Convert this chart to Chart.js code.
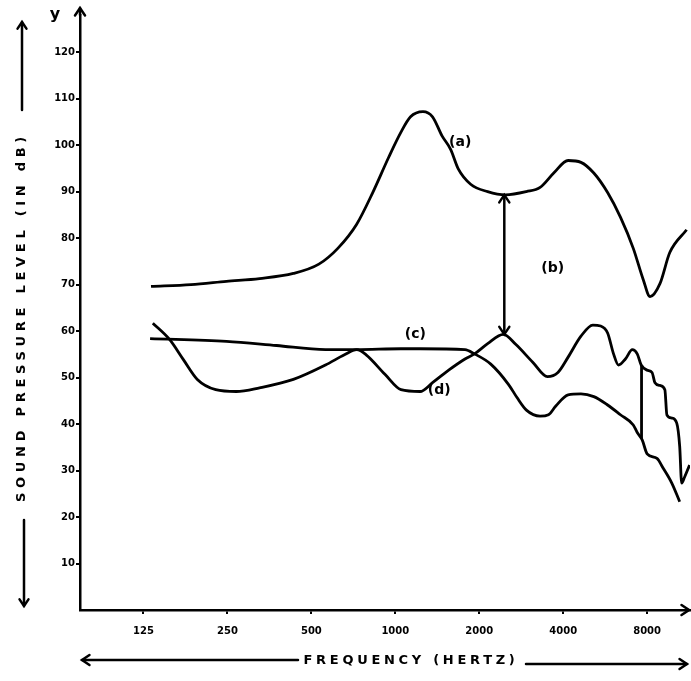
<!DOCTYPE html>
<html lang="en">
<head>
    <meta charset="UTF-8">
    <title>Sound Pressure Level vs Frequency</title>
    <script src="https://cdn.jsdelivr.net/npm/chart.js@4.4.0/dist/chart.umd.min.js"></script>
    <style>
        html, body {
            margin: 0;
            padding: 0;
            background: #fff;
        }
        #wrap {
            width: 691px;
            height: 681px;
        }
    </style>
</head>
<body>
    <div id="wrap">
        <canvas id="chart" width="691" height="681"></canvas>
    </div>

    <script>
        // tick labels
        const xTickValues = [125, 250, 500, 1000, 2000, 4000, 8000];
        const yTickValues = [10, 20, 30, 40, 50, 60, 70, 80, 90, 100, 110, 120];

        // curve (a)
        const aFreq = [133, 185, 248, 326, 431, 532, 622, 727, 830, 947, 1048, 1134, 1257, 1360, 1471, 1579, 1682, 1863,
                       2144, 2483, 2953, 3306, 3700, 4167, 4633, 5151, 5773, 6418, 7136, 7745, 8197, 8895, 9647, 11086];
        const aLevel = [69.6, 70.0, 70.7, 71.3, 72.4, 74.4, 77.8, 83.0, 89.8, 97.4, 102.8, 106.1, 107.2, 106.1, 102.0, 99.1, 94.9, 91.6,
                        90.0, 89.3, 90.0, 90.9, 94.0, 96.7, 96.3, 94.0, 89.8, 84.5, 77.8, 71.1, 67.4, 70.2, 76.9, 81.8];

        // curve (c)
        const cFreq = [132, 248, 375, 562, 727, 1048, 1227, 1778, 1923, 2200, 2549, 2732, 2953, 3306, 3543, 3765, 4167, 4633,
                       5151, 5773, 6418, 7136, 7373, 7681, 8000, 8678, 9115, 9808, 10470];
        const cLevel = [58.4, 57.8, 56.9, 56.0, 56.0, 56.2, 56.2, 56.0, 55.1, 52.9, 48.5, 45.7, 43.0, 41.7, 42.0, 43.9, 46.3, 46.5,
                        45.9, 44.1, 42.0, 39.8, 38.2, 36.6, 33.6, 32.6, 30.6, 27.3, 23.3];

        // curve (d)
        const dFreq = [135, 155, 174, 195, 227, 269, 326, 431, 562, 657, 727, 786, 918, 1048, 1227, 1360, 1554, 1778, 1923,
                       2144, 2441, 2708, 3111, 3513, 3830, 4167, 4633, 5109, 5452, 5773, 6063, 6315, 6687, 7080, 7373, 7617,
                       8000, 8332, 8536, 8895, 9263, 9418, 9808, 10218, 10470, 10642, 10905, 11360];
        const dLevel = [61.7, 58.2, 53.8, 49.6, 47.4, 47.0, 47.8, 49.6, 52.7, 54.9, 56.0, 54.9, 50.7, 47.4, 47.0, 48.9, 51.6, 54.0, 55.1,
                        57.3, 59.3, 57.1, 53.3, 50.2, 51.1, 54.4, 58.9, 61.3, 61.1, 59.6, 55.1, 52.7, 54.0, 56.0, 55.1, 52.7,
                        51.6, 51.1, 48.9, 48.3, 47.4, 42.0, 41.3, 40.2, 35.2, 27.3, 28.6, 31.2];

        // vertical drop near 8000 Hz
        const dropFreq = [7640, 7640];
        const dropLevel = [52.7, 36.8];

        // double arrow (b) between (a) and (d)
        const bArrowFreq = 2460;
        const bArrowLevels = [89.3, 59.3];

        // curve labels
        const curveLabels = ['(a)', '(b)', '(c)', '(d)'];
        const labelFreq = [1709, 3668, 1180, 1437];
        const labelLevel = [100.7, 73.6, 59.3, 47.2];

        function pts(xs, ys) {
            return xs.map((x, i) => ({ x: x, y: ys[i] }));
        }

        function head(ctx, x, y, ang, size) {
            ctx.beginPath();
            ctx.moveTo(x + size * Math.cos(ang + 2.55), y + size * Math.sin(ang + 2.55));
            ctx.lineTo(x, y);
            ctx.lineTo(x + size * Math.cos(ang - 2.55), y + size * Math.sin(ang - 2.55));
            ctx.stroke();
        }

        function spacedText(ctx, text, x, y, width) {
            const w = ctx.measureText(text).width;
            if ('letterSpacing' in ctx) {
                ctx.letterSpacing = ((width - w) / text.length) + 'px';
            }
            ctx.fillText(text, x, y);
            if ('letterSpacing' in ctx) ctx.letterSpacing = '0px';
        }

        const decor = {
            id: 'decor',
            afterDraw(chart) {
                const { ctx, chartArea: ca, scales: { x, y } } = chart;
                ctx.save();
                ctx.strokeStyle = '#000';
                ctx.fillStyle = '#000';
                ctx.lineWidth = 2.5;
                ctx.lineCap = 'round';

                // axis arrows
                ctx.beginPath();
                ctx.moveTo(ca.left, ca.top);
                ctx.lineTo(ca.left, 8);
                ctx.stroke();
                head(ctx, ca.left, 8, -Math.PI / 2, 9);
                head(ctx, ca.right - 1, ca.bottom, 0, 9);

                // "y" label
                ctx.font = 'bold 16px "DejaVu Sans"';
                ctx.textAlign = 'center';
                ctx.textBaseline = 'middle';
                ctx.fillText('y', 55, 15);

                // y axis title with arrows
                ctx.save();
                ctx.translate(22, 317);
                ctx.rotate(-Math.PI / 2);
                ctx.font = 'bold 13px "DejaVu Sans"';
                spacedText(ctx, 'SOUND PRESSURE LEVEL (IN dB)', 0, 0, 370);
                ctx.restore();
                ctx.beginPath();
                ctx.moveTo(22, 110);
                ctx.lineTo(22, 22);
                ctx.moveTo(24, 520);
                ctx.lineTo(24, 606);
                ctx.stroke();
                head(ctx, 22, 22, -Math.PI / 2, 8);
                head(ctx, 24, 606, Math.PI / 2, 8);

                // x axis title with arrows
                ctx.font = 'bold 13px "DejaVu Sans"';
                spacedText(ctx, 'FREQUENCY (HERTZ)', 411, 661, 215);
                ctx.beginPath();
                ctx.moveTo(82, 660);
                ctx.lineTo(298, 660);
                ctx.moveTo(526, 664);
                ctx.lineTo(687, 664);
                ctx.stroke();
                head(ctx, 82, 660, Math.PI, 9);
                head(ctx, 687, 664, 0, 9);

                // double arrow (b)
                const bx = x.getPixelForValue(bArrowFreq);
                const by1 = y.getPixelForValue(bArrowLevels[0]);
                const by2 = y.getPixelForValue(bArrowLevels[1]);
                ctx.beginPath();
                ctx.moveTo(bx, by1);
                ctx.lineTo(bx, by2);
                ctx.stroke();
                head(ctx, bx, by1, -Math.PI / 2, 9);
                head(ctx, bx, by2, Math.PI / 2, 9);

                // curve labels
                ctx.font = 'bold 14px "DejaVu Sans"';
                curveLabels.forEach((t, i) => {
                    ctx.fillText(t, x.getPixelForValue(labelFreq[i]), y.getPixelForValue(labelLevel[i]));
                });
                ctx.restore();
            }
        };

        const lineStyle = {
            borderColor: '#000',
            borderWidth: 2.8,
            pointRadius: 0,
            fill: false,
            cubicInterpolationMode: 'monotone'
        };

        new Chart(document.getElementById('chart'), {
            type: 'line',
            data: {
                datasets: [
                    Object.assign({ label: '(a)', data: pts(aFreq, aLevel) }, lineStyle),
                    Object.assign({ label: '(c)', data: pts(cFreq, cLevel) }, lineStyle),
                    Object.assign({ label: '(d)', data: pts(dFreq, dLevel) }, lineStyle),
                    Object.assign({ label: 'drop', data: pts(dropFreq, dropLevel) }, lineStyle,
                                  { cubicInterpolationMode: 'default', tension: 0 })
                ]
            },
            options: {
                responsive: false,
                animation: false,
                layout: { padding: { top: 15, right: 1, left: 0, bottom: 0 } },
                plugins: {
                    legend: { display: false },
                    tooltip: { enabled: false }
                },
                scales: {
                    x: {
                        type: 'logarithmic',
                        min: 74,
                        max: 11400,
                        afterBuildTicks: (axis) => {
                            axis.ticks = xTickValues.map(v => ({ value: v }));
                        },
                        afterFit: (axis) => { axis.height = 71; },
                        border: { display: true, color: '#000', width: 2.5 },
                        grid: { drawOnChartArea: false, drawTicks: true, tickLength: 4, color: '#000', lineWidth: 2 },
                        ticks: {
                            color: '#000',
                            font: { family: 'DejaVu Sans', size: 10, weight: 'bold' },
                            padding: 11,
                            maxRotation: 0,
                            autoSkip: false,
                            callback: (v) => String(v)
                        }
                    },
                    y: {
                        type: 'linear',
                        min: 0,
                        max: 128,
                        afterBuildTicks: (axis) => {
                            axis.ticks = yTickValues.map(v => ({ value: v }));
                        },
                        afterFit: (axis) => { axis.width = 80; },
                        border: { display: true, color: '#000', width: 2.5 },
                        grid: { drawOnChartArea: false, drawTicks: true, tickLength: 4, color: '#000', lineWidth: 2 },
                        ticks: {
                            color: '#000',
                            font: { family: 'DejaVu Sans', size: 10, weight: 'bold' },
                            padding: 1,
                            autoSkip: false,
                            callback: (v) => String(v)
                        }
                    }
                }
            },
            plugins: [decor]
        });
    </script>
</body>
</html>
